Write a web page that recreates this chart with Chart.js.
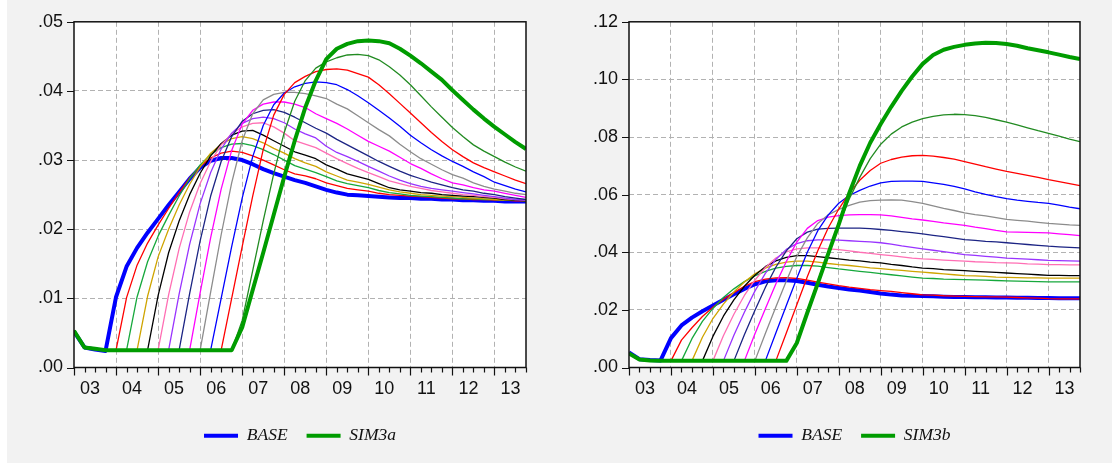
<!DOCTYPE html>
<html>
<head>
<meta charset="utf-8">
<script src="https://cdn.jsdelivr.net/npm/chart.js@4/dist/chart.umd.min.js"></script>
<style>
  html, body { margin: 0; padding: 0; background: #ffffff; }
  #wrap { position: absolute; left: 0; top: 0; width: 1112px; height: 463px; background: #f2f2f2; overflow: hidden; }
  #edge { position: absolute; left: 0; top: 0; width: 7px; height: 463px; background: #ffffff; }
  .panel { position: absolute; top: 0; width: 556px; height: 463px; }
  canvas { display: block; }
</style>
</head>
<body>
<div id="wrap">
  <div id="edge"></div>
  <div class="panel" style="left:0"><canvas id="panelA" width="556" height="463"></canvas></div>
  <div class="panel" style="left:556px"><canvas id="panelB" width="556" height="463"></canvas></div>
</div>
<script>
// Quarterly sample 2003Q1..2013Q4, year labels shown between the Q1 ticks
const years = ['03', '04', '05', '06', '07', '08', '09', '10', '11', '12', '13'];

// Baseline path (same in both panels)
const base = [.0052,.0029,.0026,.0024,.0102,.0146,.0173,.0195,.0215,.0235,.0254,.0273,.0289,.0299,.0303,.0303,.0300,.0294,.0287,.0281,.0276,.0271,.0267,.0262,.0257,.0253,.0250,.0249,.0248,.0247,.0246,.0245,.0245,.0244,.0244,.0243,.0243,.0242,.0242,.0241,.0241,.0240,.0240,.0240];

// Scenario a: policy lift-off delayed one quarter at a time
const a04q1 = [.0053,.0029,.0027,.0025,.0025,.0101,.0148,.0180,.0206,.0230,.0253,.0274,.0291,.0303,.0310,.0313,.0311,.0306,.0300,.0293,.0286,.0280,.0277,.0273,.0267,.0263,.0259,.0257,.0255,.0252,.0250,.0249,.0248,.0247,.0246,.0245,.0244,.0244,.0243,.0243,.0242,.0242,.0241,.0241];
const a04q2 = [.0053,.0029,.0027,.0025,.0025,.0025,.0102,.0153,.0190,.0220,.0248,.0273,.0293,.0308,.0318,.0323,.0324,.0321,.0315,.0308,.0300,.0292,.0287,.0282,.0276,.0270,.0266,.0263,.0260,.0256,.0253,.0251,.0249,.0248,.0247,.0246,.0245,.0244,.0244,.0243,.0243,.0242,.0242,.0241];
const a04q3 = [.0053,.0029,.0027,.0025,.0025,.0025,.0025,.0103,.0160,.0200,.0235,.0265,.0290,.0310,.0323,.0331,.0334,.0331,.0325,.0317,.0310,.0302,.0296,.0291,.0283,.0277,.0271,.0268,.0265,.0261,.0257,.0254,.0252,.0250,.0249,.0248,.0247,.0246,.0245,.0244,.0243,.0242,.0242,.0241];
const a04q4 = [.0053,.0029,.0027,.0025,.0025,.0025,.0025,.0025,.0104,.0166,.0212,.0250,.0281,.0306,.0324,.0336,.0342,.0343,.0336,.0328,.0320,.0312,.0307,.0302,.0293,.0287,.0280,.0276,.0272,.0266,.0260,.0257,.0255,.0253,.0252,.0250,.0249,.0248,.0247,.0246,.0245,.0243,.0242,.0241];
const a05q1 = [.0053,.0029,.0027,.0025,.0025,.0025,.0025,.0025,.0025,.0105,.0172,.0225,.0266,.0298,.0322,.0338,.0348,.0353,.0354,.0348,.0339,.0328,.0323,.0318,.0310,.0302,.0295,.0288,.0282,.0276,.0270,.0266,.0262,.0259,.0256,.0254,.0252,.0250,.0249,.0247,.0246,.0244,.0243,.0242];
const a05q2 = [.0053,.0029,.0027,.0025,.0025,.0025,.0025,.0025,.0025,.0025,.0106,.0178,.0237,.0282,.0316,.0339,.0353,.0360,.0362,.0360,.0354,.0345,.0338,.0332,.0320,.0311,.0305,.0298,.0291,.0284,.0277,.0271,.0266,.0262,.0259,.0257,.0255,.0253,.0251,.0249,.0247,.0245,.0243,.0242];
const a05q3 = [.0053,.0029,.0027,.0025,.0025,.0025,.0025,.0025,.0025,.0025,.0025,.0107,.0183,.0248,.0298,.0334,.0356,.0367,.0372,.0373,.0369,.0362,.0354,.0346,.0339,.0330,.0322,.0314,.0306,.0298,.0291,.0284,.0278,.0273,.0268,.0264,.0260,.0257,.0255,.0252,.0250,.0247,.0245,.0243];
const a05q4 = [.0053,.0029,.0027,.0025,.0025,.0025,.0025,.0025,.0025,.0025,.0025,.0025,.0108,.0188,.0258,.0314,.0352,.0372,.0381,.0384,.0384,.0381,.0376,.0367,.0360,.0353,.0345,.0336,.0327,.0320,.0313,.0304,.0295,.0288,.0280,.0273,.0267,.0264,.0260,.0257,.0255,.0252,.0249,.0246];
const a06q1 = [.0053,.0029,.0027,.0025,.0025,.0025,.0025,.0025,.0025,.0025,.0025,.0025,.0025,.0109,.0192,.0267,.0328,.0367,.0387,.0395,.0398,.0398,.0396,.0393,.0389,.0381,.0374,.0364,.0354,.0344,.0335,.0323,.0312,.0302,.0294,.0286,.0279,.0274,.0267,.0262,.0258,.0255,.0252,.0250];
const a06q2 = [.0053,.0029,.0027,.0025,.0025,.0025,.0025,.0025,.0025,.0025,.0025,.0025,.0025,.0025,.0100,.0175,.0245,.0305,.0350,.0380,.0397,.0406,.0411,.0413,.0412,.0409,.0402,.0393,.0383,.0372,.0361,.0349,.0336,.0325,.0315,.0306,.0298,.0291,.0283,.0276,.0268,.0263,.0258,.0254];
const a06q3 = [.0053,.0029,.0027,.0025,.0025,.0025,.0025,.0025,.0025,.0025,.0025,.0025,.0025,.0025,.0025,.0100,.0175,.0248,.0315,.0365,.0395,.0412,.0421,.0428,.0431,.0432,.0430,.0425,.0420,.0409,.0396,.0382,.0368,.0354,.0340,.0327,.0315,.0305,.0296,.0289,.0283,.0277,.0271,.0266];
const a06q4 = [.0053,.0029,.0027,.0025,.0025,.0025,.0025,.0025,.0025,.0025,.0025,.0025,.0025,.0025,.0025,.0025,.0068,.0140,.0212,.0280,.0340,.0385,.0415,.0433,.0442,.0448,.0452,.0453,.0451,.0445,.0435,.0423,.0409,.0393,.0377,.0362,.0347,.0334,.0322,.0313,.0305,.0297,.0290,.0284];
const sim3a = [.0053,.0029,.0027,.0025,.0025,.0025,.0025,.0025,.0025,.0025,.0025,.0025,.0025,.0025,.0025,.0025,.0058,.0112,.0166,.0221,.0276,.0328,.0376,.0415,.0446,.0461,.0468,.0472,.0473,.0472,.0469,.0461,.0451,.0440,.0428,.0416,.0401,.0387,.0373,.0360,.0348,.0337,.0326,.0316];

// Scenario b: same lift-off dates, persistent shift
const b04q1 = [.0049,.0028,.0024,.0023,.0023,.0095,.0138,.0177,.0209,.0237,.0260,.0282,.0298,.0307,.0311,.0312,.0309,.0303,.0296,.0290,.0284,.0279,.0275,.0270,.0267,.0264,.0260,.0256,.0252,.0251,.0249,.0248,.0247,.0246,.0245,.0245,.0244,.0243,.0242,.0241,.0239,.0238,.0238,.0238];
const b04q2 = [.0049,.0028,.0024,.0023,.0023,.0023,.0100,.0160,.0205,.0243,.0273,.0298,.0318,.0334,.0345,.0351,.0354,.0354,.0352,.0347,.0342,.0338,.0334,.0330,.0326,.0322,.0318,.0314,.0310,.0309,.0307,.0306,.0305,.0304,.0303,.0302,.0301,.0300,.0299,.0298,.0297,.0297,.0297,.0297];
const b04q3 = [.0049,.0028,.0024,.0023,.0023,.0023,.0023,.0105,.0170,.0220,.0262,.0297,.0325,.0345,.0358,.0366,.0369,.0369,.0366,.0361,.0357,.0354,.0350,.0346,.0343,.0340,.0337,.0334,.0331,.0328,.0325,.0322,.0319,.0318,.0316,.0314,.0313,.0312,.0311,.0311,.0310,.0310,.0310,.0310];
const b04q4 = [.0049,.0028,.0024,.0023,.0023,.0023,.0023,.0023,.0108,.0178,.0235,.0282,.0320,.0350,.0370,.0382,.0388,.0388,.0385,.0381,.0377,.0373,.0370,.0366,.0363,.0358,.0354,.0349,.0345,.0343,.0340,.0338,.0336,.0334,.0332,.0330,.0328,.0326,.0324,.0322,.0320,.0320,.0319,.0319];
const b05q1 = [.0049,.0028,.0024,.0023,.0023,.0023,.0023,.0023,.0023,.0110,.0185,.0250,.0303,.0347,.0380,.0401,.0412,.0415,.0415,.0412,.0409,.0405,.0400,.0396,.0392,.0388,.0384,.0380,.0377,.0375,.0373,.0371,.0369,.0367,.0366,.0364,.0363,.0362,.0360,.0359,.0357,.0357,.0356,.0356];
const b05q2 = [.0049,.0028,.0024,.0023,.0023,.0023,.0023,.0023,.0023,.0023,.0112,.0192,.0265,.0327,.0375,.0410,.0430,.0440,.0443,.0443,.0442,.0440,.0438,.0436,.0433,.0428,.0422,.0417,.0412,.0407,.0402,.0397,.0392,.0389,.0386,.0383,.0380,.0378,.0376,.0374,.0372,.0371,.0370,.0369];
const b05q3 = [.0049,.0028,.0024,.0023,.0023,.0023,.0023,.0023,.0023,.0023,.0023,.0114,.0198,.0278,.0348,.0405,.0447,.0470,.0480,.0483,.0484,.0484,.0484,.0482,.0479,.0476,.0472,.0468,.0464,.0459,.0454,.0449,.0444,.0441,.0438,.0436,.0433,.0430,.0427,.0424,.0421,.0419,.0417,.0415];
const b05q4 = [.0049,.0028,.0024,.0023,.0023,.0023,.0023,.0023,.0023,.0023,.0023,.0023,.0116,.0204,.0290,.0368,.0435,.0483,.0510,.0522,.0527,.0530,.0531,.0531,.0530,.0526,.0521,.0516,.0512,.0507,.0502,.0498,.0493,.0487,.0482,.0476,.0471,.0470,.0469,.0468,.0467,.0464,.0461,.0458];
const b06q1 = [.0049,.0028,.0024,.0023,.0023,.0023,.0023,.0023,.0023,.0023,.0023,.0023,.0023,.0118,.0210,.0300,.0385,.0450,.0500,.0530,.0549,.0563,.0574,.0579,.0581,.0582,.0581,.0576,.0570,.0561,.0552,.0545,.0537,.0531,.0526,.0520,.0514,.0511,.0508,.0504,.0500,.0498,.0495,.0493];
const b06q2 = [.0049,.0028,.0024,.0023,.0023,.0023,.0023,.0023,.0023,.0023,.0023,.0023,.0023,.0023,.0120,.0215,.0310,.0400,.0475,.0530,.0570,.0597,.0615,.0630,.0641,.0646,.0647,.0647,.0646,.0641,.0636,.0629,.0620,.0610,.0601,.0593,.0586,.0581,.0577,.0573,.0570,.0564,.0557,.0551];
const b06q3 = [.0049,.0028,.0024,.0023,.0023,.0023,.0023,.0023,.0023,.0023,.0023,.0023,.0023,.0023,.0023,.0120,.0218,.0315,.0405,.0485,.0550,.0605,.0650,.0684,.0709,.0722,.0730,.0735,.0736,.0734,.0729,.0723,.0715,.0706,.0697,.0689,.0681,.0674,.0667,.0660,.0652,.0645,.0638,.0631];
const b06q4 = [.0049,.0028,.0024,.0023,.0023,.0023,.0023,.0023,.0023,.0023,.0023,.0023,.0023,.0023,.0023,.0023,.0090,.0195,.0300,.0400,.0495,.0585,.0660,.0725,.0775,.0810,.0835,.0852,.0864,.0872,.0877,.0879,.0878,.0874,.0868,.0860,.0852,.0842,.0832,.0822,.0813,.0803,.0793,.0784];
const sim3b = [.0049,.0028,.0024,.0023,.0023,.0023,.0023,.0023,.0023,.0023,.0023,.0023,.0023,.0023,.0023,.0023,.0085,.0190,.0292,.0395,.0497,.0605,.0700,.0780,.0845,.0905,.0960,.1010,.1054,.1085,.1103,.1113,.1120,.1125,.1127,.1126,.1123,.1117,.1108,.1101,.1094,.1086,.1078,.1071];

// Line colours for the intermediate lift-off dates (earliest first)
const fanColors = ['#ff0000', '#16a83c', '#cfa400', '#000000', '#ff6eb4', '#9933ff', '#1c2484', '#ff00ff', '#8c8c8c', '#0000ff', '#ff0000', '#228b22'];
const BLUE = '#0000ff';
const GREEN = '#009c00';

const fanA = [a04q1, a04q2, a04q3, a04q4, a05q1, a05q2, a05q3, a05q4, a06q1, a06q2, a06q3, a06q4];
const fanB = [b04q1, b04q2, b04q3, b04q4, b05q1, b05q2, b05q3, b05q4, b06q1, b06q2, b06q3, b06q4];

const nQuarters = years.length * 4;
const toPoints = vals => vals.map((v, i) => ({ x: i, y: v }));
const fmtRate = v => v.toFixed(2).replace(/^0/, '');

// White plot area, black frame, quarterly tick marks and value tick marks;
// the legend is centred under the plot area rather than the whole canvas.
const framePlugin = {
  id: 'frame',
  afterLayout(chart) {
    const lg = chart.legend, a = chart.chartArea;
    if (!lg || !a) return;
    const shift = (a.left + a.right) / 2 - (lg.left + lg.right) / 2;
    lg.left += shift;
    lg.right += shift;
  },
  beforeDraw(chart) {
    const { ctx, chartArea: a } = chart;
    ctx.save();
    ctx.fillStyle = '#ffffff';
    ctx.fillRect(a.left, a.top, a.right - a.left, a.bottom - a.top);
    ctx.restore();
  },
  afterDraw(chart) {
    const { ctx, chartArea: a, scales } = chart;
    const x = scales.x, y = scales.y;
    ctx.save();
    ctx.strokeStyle = '#111111';
    ctx.lineWidth = 1.5;
    ctx.strokeRect(a.left, a.top, a.right - a.left, a.bottom - a.top);
    ctx.lineWidth = 1.2;
    ctx.beginPath();
    for (let q = 0; q < nQuarters; q++) {
      const px = Math.round(x.getPixelForValue(q)) + 0.5;
      const len = q % 4 === 0 ? 8 : 5;
      ctx.moveTo(px, a.bottom);
      ctx.lineTo(px, a.bottom + len);
    }
    y.ticks.forEach(t => {
      const py = Math.round(y.getPixelForValue(t.value)) + 0.5;
      ctx.moveTo(a.left - 7, py);
      ctx.lineTo(a.left, py);
    });
    ctx.stroke();
    ctx.restore();
  }
};

function makePanel(canvasId, fan, simSeries, simName, yMax, yStep, axisWidth, padRight) {
  const datasets = [];
  datasets.push({ label: 'BASE', data: toPoints(base), borderColor: BLUE, borderWidth: 4, order: 20 });
  fan.forEach((vals, k) => {
    datasets.push({ label: 'L' + k, data: toPoints(vals), borderColor: fanColors[k], borderWidth: 1.3, order: 13 - k });
  });
  datasets.push({ label: simName, data: toPoints(simSeries), borderColor: GREEN, borderWidth: 4, order: 0 });

  new Chart(document.getElementById(canvasId), {
    type: 'line',
    data: { datasets },
    plugins: [framePlugin],
    options: {
      responsive: false,
      animation: false,
      events: [],
      layout: { padding: { left: 0, right: padRight, top: 21, bottom: 8.5 } },
      elements: {
        point: { radius: 0 },
        line: { tension: 0, fill: false, borderJoinStyle: 'round', borderCapStyle: 'butt' }
      },
      scales: {
        x: {
          type: 'linear', min: 0, max: nQuarters - 1,
          afterBuildTicks: s => { s.ticks = years.map((_, k) => ({ value: k * 4 })); },
          afterFit: s => { s.height = 40.5; },
          ticks: {
            autoSkip: false, maxRotation: 0, padding: 11, labelOffset: 16,
            color: '#111111',
            font: { family: 'Liberation Sans', size: 18 },
            callback: v => years[Math.round(v / 4)]
          },
          grid: {
            drawTicks: false, lineWidth: 1,
            color: c => (c.tick && c.tick.value > 0) ? '#b2b2b2' : 'rgba(0,0,0,0)'
          },
          border: { display: false, dash: [5, 3] }
        },
        y: {
          min: 0, max: yMax,
          afterFit: s => { s.width = axisWidth; },
          ticks: {
            stepSize: yStep, padding: 11,
            color: '#111111',
            font: { family: 'Liberation Sans', size: 18 },
            callback: v => fmtRate(v)
          },
          grid: {
            drawTicks: false, lineWidth: 1,
            color: c => (c.tick && c.tick.value > 1e-9 && c.tick.value < yMax - 1e-9) ? '#b2b2b2' : 'rgba(0,0,0,0)'
          },
          border: { display: false, dash: [5, 3] }
        }
      },
      plugins: {
        tooltip: { enabled: false },
        legend: {
          position: 'bottom',
          labels: {
            boxWidth: 34, boxHeight: 4, padding: 19,
            color: '#111111',
            font: { family: 'Liberation Serif', style: 'italic', size: 17.5 },
            generateLabels: () => [
              { text: 'BASE', fillStyle: BLUE, strokeStyle: BLUE, lineWidth: 0, hidden: false, fontColor: '#111111' },
              { text: simName, fillStyle: GREEN, strokeStyle: GREEN, lineWidth: 0, hidden: false, fontColor: '#111111' }
            ]
          }
        }
      }
    }
  });
}

makePanel('panelA', fanA, sim3a, 'SIM3a', 0.05, 0.01, 74, 30);
makePanel('panelB', fanB, sim3b, 'SIM3b', 0.12, 0.02, 73, 32);
</script>
</body>
</html>
